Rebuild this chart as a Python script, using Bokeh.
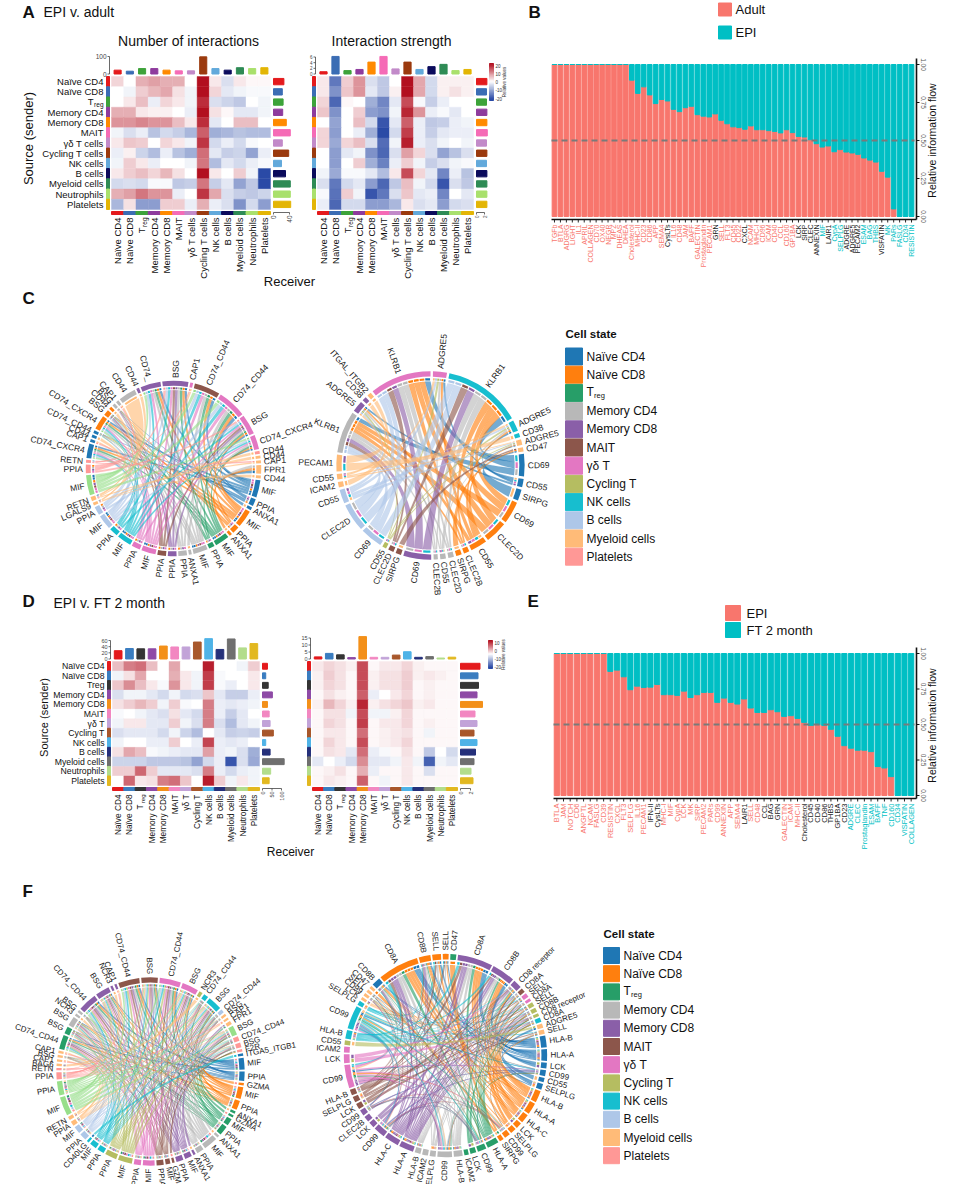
import numpy as np
from bokeh.plotting import figure
from bokeh.models import Range1d, ColumnDataSource
from bokeh.transform import linear_cmap
from bokeh.core.properties import value
from bokeh.embed import file_html
from bokeh.resources import INLINE

FONT = "Liberation Sans"

# ------------------------------------------------------------------ data
CELLS_A = ["Naïve CD4", "Naïve CD8", "Treg", "Memory CD4", "Memory CD8", "MAIT",
           "γδ T cells", "Cycling T cells", "NK cells", "B cells", "Myeloid cells",
           "Neutrophils", "Platelets"]
CELLS_D = ["Naïve CD4", "Naïve CD8", "Treg", "Memory CD4", "Memory CD8", "MAIT",
           "γδ T", "Cycling T", "NK cells", "B cells", "Myeloid cells",
           "Neutrophils", "Platelets"]
A_COLORS = ["#e41a1c", "#3b6db4", "#3da33a", "#8e3b9d", "#ff8a00", "#f56bb6", "#c28ac9",
            "#9b3a0e", "#62a9db", "#0b0b5c", "#2e8b55", "#a9e06c", "#e3b505"]
D_COLORS = ["#e41a1c", "#3a7dc0", "#353535", "#8e4aa6", "#f39019", "#f287c1", "#c2a3d8",
            "#a8572b", "#4fb3e7", "#25307a", "#6f6f6f", "#b3dd8c", "#e2b820"]

# relative values (sender rows x receiver columns)
A_COUNT = [
    [0.5, 0.0, 1.0, 1.2, 1.0, 1.0, 0.0, 3.0, 0.3, -0.5, 0.3, 0.1, 0.1],
    [0.0, -0.2, 0.6, 0.9, 1.1, 0.4, -0.2, 3.2, 0.5, -0.4, -0.2, -0.1, -0.1],
    [0.0, 0.3, 0.8, -0.3, 0.5, 0.3, -0.2, 2.6, -0.5, -0.7, -0.9, 0.0, -0.2],
    [1.0, 1.0, 0.3, 0.2, 0.2, 0.0, -0.3, 3.0, 0.4, 0.1, -0.4, -0.4, -0.2],
    [1.3, 1.3, 1.5, 1.3, 1.3, 0.8, 0.3, 2.6, -0.4, 0.0, 0.8, 0.8, 0.0],
    [-0.2, -0.5, -0.3, -1.0, -0.6, -0.8, -1.2, 2.0, -1.3, -1.2, -1.0, -1.1, -1.1],
    [0.3, 0.7, 0.6, 0.0, 0.5, 0.3, -0.2, 2.5, -0.6, -0.3, -0.6, -0.1, 0.0],
    [-0.3, 0.2, -0.7, -1.1, -0.3, -1.0, -1.3, 1.8, -0.4, -0.8, -0.7, -1.5, -0.3],
    [-0.2, 0.6, 0.3, -0.3, 0.0, 0.0, -0.2, 1.7, -1.1, -0.4, -0.6, -0.3, -0.1],
    [0.3, 0.6, 0.8, 0.5, 0.9, 0.4, 0.0, 3.0, 0.3, 0.0, 0.6, -0.2, -3.0],
    [-0.6, -0.5, -0.6, -0.1, -0.1, -0.9, -0.8, 1.7, -0.8, -0.4, -1.5, -0.9, -3.0],
    [1.0, 1.2, 1.7, 1.3, 1.3, -0.3, 0.0, 2.5, 1.1, -0.5, -0.8, -0.9, -0.7],
    [-1.2, 0.4, -1.6, -1.6, 0.6, 0.6, -0.3, 1.0, -0.3, -0.5, -1.8, -0.6, -1.6],
]
A_STRENGTH = [
    [0.3, -2.2, 0.6, 1.3, -0.5, -0.9, 0.0, 3.0, 1.1, -0.6, 0.2, 0.2, 0.2],
    [0.3, -1.8, 0.7, 1.3, -0.4, -0.9, 0.2, 3.2, 1.1, -0.6, 0.2, 0.4, 0.2],
    [0.5, -2.5, 0.1, 0.0, -1.3, -2.0, -0.4, 2.2, -0.1, -0.8, -0.3, 0.0, 0.0],
    [0.7, -1.8, 0.0, 0.6, -1.6, -1.8, -0.2, 2.7, 1.3, -0.3, -0.1, -0.4, 0.0],
    [0.0, -1.5, 0.0, 0.8, -0.6, -2.8, -0.4, 2.0, -0.3, -0.9, -0.8, -0.3, -0.2],
    [0.5, -1.6, 0.0, -0.3, -1.3, -3.0, -0.6, 2.4, -0.3, -0.8, -0.4, -0.3, -0.3],
    [0.5, -1.4, 0.5, 0.8, -0.5, -2.4, -0.2, 2.8, -0.3, -0.5, -0.2, 0.0, -0.2],
    [0.0, -1.6, -0.4, -0.2, -1.8, -2.5, -0.5, 1.2, 0.5, -0.5, -1.5, -1.0, -0.5],
    [0.0, -1.6, 0.0, 0.6, -1.3, -2.1, -0.3, 0.6, -0.2, -0.8, -0.5, -0.2, -0.1],
    [-0.2, -1.4, -0.1, -0.1, -0.4, -1.1, 0.3, 2.2, 0.5, -0.4, -2.0, -0.3, -1.0],
    [-0.5, -2.2, -0.6, -0.4, -1.6, -2.5, -0.9, 0.8, -0.2, -0.6, -2.8, -0.5, -0.9],
    [-0.1, -2.3, 0.6, -0.2, -2.8, -2.2, -0.5, 0.7, -0.4, -0.3, -2.0, 0.0, -0.4],
    [-0.3, -2.5, -0.6, -0.6, -1.6, -1.6, -1.2, 0.3, -0.5, -0.4, -1.6, -0.6, -0.5],
]
A_COUNT_IN = [22, 16, 31, 31, 22, 18, 18, 98, 31, 22, 36, 31, 36]
A_COUNT_OUT = [26, 22, 24, 23, 32, 42, 22, 38, 20, 30, 42, 42, 43]
A_STRENGTH_IN = [0.8, 6.2, 1.2, 1.6, 4.2, 6.2, 1.8, 4.2, 1.6, 2.6, 3.4, 1.2, 1.6]
A_STRENGTH_OUT = [2.6, 2.5, 2.5, 2.6, 2.6, 2.7, 2.5, 2.6, 2.5, 2.6, 2.6, 2.6, 2.6]

D_COUNT = [
    [0.8, 1.6, 1.8, 0.8, 0.0, 1.1, 0.0, 0.0, 2.8, 0.0, 0.0, -0.2, 0.6],
    [-0.2, 0.4, 1.1, 0.0, 0.0, 1.0, 0.3, -0.2, 2.4, -0.1, 0.0, 0.0, 0.3],
    [0.7, 1.4, 0.8, 0.3, -0.1, 1.3, 0.3, -0.2, 2.4, -0.1, -0.3, 0.0, 0.3],
    [-0.5, -0.2, -0.2, -0.4, -0.6, -0.2, -0.6, -0.5, 0.7, -0.4, -0.8, -0.8, -0.3],
    [0.4, 0.6, 0.9, 0.6, -0.2, 0.6, -0.1, 0.0, 1.6, -0.3, -0.4, -0.3, -0.2],
    [-0.1, 0.0, -0.2, -0.4, -0.5, 0.4, -0.4, -0.6, 1.6, -0.3, -0.8, -0.4, 0.0],
    [-0.2, 0.3, 0.3, -0.4, -0.4, 0.6, -0.2, -0.5, 1.6, -0.5, -1.1, -0.4, -0.2],
    [-0.5, -0.4, -0.4, -0.4, -0.6, -0.2, -0.7, -1.1, 0.0, -0.4, -0.8, -0.7, -0.8],
    [-0.2, 0.0, 0.0, -0.3, -0.3, 0.6, 0.0, -0.3, 2.3, -0.3, -0.4, -0.3, 0.0],
    [0.4, 1.1, 0.8, -0.1, -0.2, -0.3, -0.4, -0.4, 1.2, -0.3, -0.2, -0.5, -1.3],
    [-0.7, -0.7, -0.7, -0.9, -0.9, -0.9, -1.0, -1.5, -0.6, -0.3, -2.8, -0.5, -1.4],
    [0.6, 0.6, 1.9, 0.6, -0.4, -0.4, -0.4, -0.5, 1.6, -0.3, -0.6, -0.3, -0.2],
    [0.0, 1.9, 0.3, 0.4, 1.6, 1.8, 0.7, 0.0, 2.8, 0.6, -0.2, 0.3, -0.2],
]
D_STRENGTH = [
    [0.3, 0.5, 0.4, 0.2, 2.2, 0.1, 0.3, 0.3, 0.5, 0.2, 0.1, 0.1, 0.1],
    [0.2, 0.6, 0.4, 0.1, 2.2, 0.2, 0.4, 0.4, 0.6, 0.2, 0.3, 0.2, 0.1],
    [0.2, 0.5, 0.4, 0.1, 2.2, 0.2, 0.4, 0.4, 0.6, 0.1, 0.2, 0.1, 0.1],
    [0.1, 0.4, 0.2, 0.1, 2.0, -0.3, 0.0, 0.3, 0.5, 0.1, 0.2, 0.1, 0.1],
    [0.2, 0.9, 0.5, 0.2, 2.7, 0.2, 0.4, 0.5, 0.7, 0.2, 0.3, 0.1, 0.1],
    [0.1, 0.4, 0.4, -0.2, 2.2, -0.2, -0.2, 0.2, 0.5, 0.1, 0.1, 0.1, 0.1],
    [0.1, 0.5, 0.4, 0.1, 2.4, 0.1, 0.3, 0.3, 0.5, 0.1, 0.2, 0.1, 0.1],
    [0.1, 0.3, 0.3, 0.1, 1.8, 0.1, 0.2, 0.3, 0.4, 0.1, -0.2, 0.1, 0.1],
    [0.1, 0.5, 0.3, 0.1, 2.2, 0.1, 0.2, 0.3, 0.5, 0.1, 0.1, 0.1, 0.1],
    [0.1, 0.4, 0.3, -0.4, 1.8, -0.3, -0.1, 0.1, 0.4, 0.1, -0.9, 0.0, -0.6],
    [-0.4, 0.0, -0.3, -0.6, 1.4, -0.4, -0.4, -0.2, 0.3, -0.2, -2.6, -0.2, -0.4],
    [0.1, 0.2, 0.4, 0.1, 1.0, -0.3, 0.1, 0.1, 0.3, 0.1, -0.5, 0.1, 0.1],
    [0.1, 0.3, 0.2, 0.1, 2.0, 0.1, -0.2, 0.1, 0.3, 0.1, 0.1, 0.1, 0.1],
]
D_COUNT_IN = [27, 34, 33, 33, 42, 39, 39, 55, 66, 31, 65, 36, 50]
D_COUNT_OUT = [26, 17, 30, 52, 26, 35, 40, 57, 17, 40, 114, 43, 35]
D_STRENGTH_IN = [1.5, 4.0, 3.0, 1.0, 16.0, 1.2, 1.2, 2.8, 5.2, 1.2, 1.7, 0.7, 1.3]
D_STRENGTH_OUT = [3.9, 3.5, 3.6, 3.3, 4.4, 2.9, 3.3, 2.7, 3.3, 3.0, 2.7, 2.1, 2.5]

B_NAMES = ["TGFb", "BTLA", "ADGRG", "LIGHT", "IL1", "APRIL", "COLLAGEN", "CD70", "OX40",
           "NEGR", "MPZ", "DHEAS", "DHEA", "Cholesterol", "MHC-II", "CD23", "CD86", "APP",
           "SEMA4", "CysLTs", "IL16", "CD48", "JAM", "BAFF", "GALECTIN", "Prostaglandin",
           "PECAM1", "GRN", "SELL", "FLT3", "CD45", "CD22", "CXCL", "NCAM", "MHC-I", "CD96",
           "ICAM", "CD40", "CCL", "CD160", "GP1BA", "LCK", "SIRP", "CLEC", "ANNEXIN", "MIF",
           "LAIR1", "CypA", "SELPLG", "ADGRE", "ADGRE5", "PECAM2", "ESAM", "BAG", "THBS",
           "VISFATIN", "MK", "PARs", "FASLG", "CD34", "RESISTIN"]
B_ADULT = [1.0, 1.0, 1.0, 1.0, 1.0, 1.0, 1.0, 1.0, 1.0, 1.0, 1.0, 1.0, 1.0,
           0.897, 0.81, 0.853, 0.80, 0.743, 0.77, 0.76, 0.705, 0.69, 0.716, 0.725, 0.67,
           0.66, 0.655, 0.675, 0.633, 0.61, 0.59, 0.585, 0.574, 0.596, 0.571, 0.571, 0.565,
           0.56, 0.55, 0.571, 0.552, 0.527, 0.523, 0.505, 0.479, 0.457, 0.464, 0.426, 0.44,
           0.424, 0.418, 0.409, 0.385, 0.371, 0.358, 0.297, 0.259, 0.05, 0.0, 0.0, 0.0]
B_LABEL_GROUP = "rrrrrrrrrrrrrrrrrrrkrrrrrrrkrrrrkrrrrrrrrkkkktkttkkktttkttttt"

E_NAMES = ["BTLA", "JAM", "NOTCH", "CD6", "ANGPTL", "NCAM", "FASLG", "CD39", "RESISTIN",
           "CXCL", "FLT3", "SELPLG", "IL16", "PECAM1", "IFN-II", "CysLTs", "MHC-I", "MIF",
           "CypA", "LCK", "MK", "SIRP", "PECAM2", "PARs", "CD99", "ANNEXIN", "APP", "SEMA4",
           "LAIR1", "SELL", "CD48", "CCL", "BAG", "GRN", "GALECTIN", "ICAM", "MHC-II",
           "Cholesterol", "CD45", "CD40", "CD86", "THBS", "GP1BA", "CD23", "ADGRE", "CLEC",
           "Prostaglandin", "ESAM", "BAFF", "TNF", "CD160", "CD34", "VISFATIN", "COLLAGEN"]
E_EPI = [1.0, 1.0, 1.0, 1.0, 1.0, 1.0, 1.0, 1.0,
         0.874, 0.883, 0.836, 0.745, 0.77, 0.761, 0.763, 0.782, 0.71, 0.71, 0.705, 0.735,
         0.69, 0.71, 0.726, 0.726, 0.656, 0.686, 0.656, 0.644, 0.68, 0.616, 0.585, 0.585,
         0.604, 0.59, 0.557, 0.562, 0.543, 0.515, 0.494, 0.499, 0.494, 0.466, 0.417, 0.351,
         0.333, 0.319, 0.319, 0.309, 0.204, 0.194, 0.133, 0.0, 0.0, 0.0]
E_LABEL_GROUP = "rrrrrrrrrrrrrrkkrrrrrrrrrrrrkrrkkkrrrkkkkkkktttttttttt"

CHORD_COLORS = {"Naïve CD4": "#1f77b4", "Naïve CD8": "#ff7f0e", "Treg": "#279e68",
                "Memory CD4": "#b8b8b8", "Memory CD8": "#8a5fa8", "MAIT": "#8c564b",
                "γδ T": "#e377c2", "Cycling T": "#b5bd61", "NK cells": "#17becf",
                "B cells": "#aec7e8", "Myeloid cells": "#ffbb78", "Platelets": "#ff9896",
                "Neutrophils": "#98df8a"}
LEGEND_CELLS = ["Naïve CD4", "Naïve CD8", "Treg", "Memory CD4", "Memory CD8", "MAIT", "γδ T",
                "Cycling T", "NK cells", "B cells", "Myeloid cells", "Platelets"]

# chord sectors: (gene, cell state, relative width), clockwise
C_LEFT = [
    ("CD74_", "Memory CD8", 7), ("BSG", "Memory CD8", 9), ("CAP1", "γδ T", 1),
    ("CD74_CD44", "MAIT", 9), ("CD74_CD44", "γδ T", 10), ("BSG", "γδ T", 7),
    ("CD74_CXCR4", "γδ T", 5), ("CD44", "Platelets", 1), ("CD44", "Myeloid cells", 1),
    ("CAP1", "Myeloid cells", 1), ("FPR1", "Myeloid cells", 3), ("CD44", "Myeloid cells", 1),
    ("MIF", "Naïve CD4", 6), ("PPIA", "Naïve CD4", 2.5), ("ANXA1", "Naïve CD4", 1),
    ("MIF", "Naïve CD8", 6), ("PPIA", "Naïve CD8", 2.5), ("ANXA1", "Naïve CD8", 1),
    ("MIF", "Treg", 5), ("PPIA", "Treg", 2),
    ("MIF", "Memory CD4", 5), ("ANXA1", "Memory CD4", 1), ("PPIA", "Memory CD4", 3),
    ("PPIA", "Memory CD8", 3), ("PPIA", "MAIT", 3),
    ("MIF", "γδ T", 5), ("PPIA", "γδ T", 3), ("MIF", "NK cells", 5), ("PPIA", "NK cells", 3),
    ("MIF", "B cells", 5), ("PPIA", "B cells", 3),
    ("LGALS9", "Myeloid cells", 1), ("RETN", "Myeloid cells", 1.5),
    ("MIF", "Neutrophils", 7), ("PPIA", "Platelets", 3), ("RETN", "Platelets", 1),
    ("CD74_CXCR4", "Naïve CD4", 5), ("CAP1", "Naïve CD4", 1), ("CD44", "Naïve CD4", 1),
    ("CD74_CD44", "Naïve CD4", 1), ("CD74_CXCR4", "Naïve CD8", 5), ("BSG", "Naïve CD8", 2),
    ("CD44", "Naïve CD8", 1), ("BSG", "Memory CD4", 1), ("CAP1", "Memory CD4", 1),
    ("CD44", "Memory CD4", 6), ("CD44", "Memory CD8", 1),
]
C_LEFT_PAIRS = {"MIF": ["CD74_CXCR4", "CD74_CD44", "CD74_"], "PPIA": ["BSG"],
                "ANXA1": ["FPR1"], "RETN": ["CAP1"], "LGALS9": ["CD44"]}

C_RIGHT = [
    ("ITGAL_ITGB2", "Myeloid cells", 1.5), ("KLRB1", "γδ T", 22), ("ADGRE5", "γδ T", 5),
    ("KLRB1", "NK cells", 28), ("ADGRE5", "NK cells", 4), ("CD38", "NK cells", 1.5),
    ("ADGRE5", "Myeloid cells", 2), ("CD47", "Myeloid cells", 1.5),
    ("CD69", "Naïve CD4", 8), ("CD55", "Naïve CD4", 3), ("SIRPG", "Naïve CD4", 4),
    ("CD69", "Naïve CD8", 8), ("CLEC2D", "Naïve CD8", 8), ("CD55", "Naïve CD8", 6),
    ("CLEC2B", "Naïve CD8", 2), ("SIRPG", "Naïve CD8", 2),
    ("CLEC2D", "Memory CD4", 2), ("CD55", "Memory CD4", 2), ("CLEC2B", "Memory CD4", 1.5),
    ("CD69", "Memory CD8", 10), ("SIRPG", "MAIT", 2), ("CLEC2D", "MAIT", 2),
    ("CD55", "Cycling T", 1.5), ("CD69", "B cells", 8), ("CLEC2D", "B cells", 10),
    ("CD55", "B cells", 5), ("ICAM2", "Myeloid cells", 2), ("CD55", "Myeloid cells", 2),
    ("PECAM1", "Myeloid cells", 6), ("KLRB1", "Memory CD4", 15),
    ("ADGRE5", "Memory CD8", 4), ("CD38", "Memory CD8", 1.5),
]
C_RIGHT_PAIRS = {"CLEC2D": ["KLRB1"], "CD69": ["KLRB1"], "CLEC2B": ["KLRB1"],
                 "CD55": ["ADGRE5"], "SIRPG": ["CD47"], "PECAM1": ["CD38"],
                 "ICAM2": ["ITGAL_ITGB2"]}

F_LEFT = [
    ("CD74_CD44", "MAIT", 9), ("BSG", "MAIT", 7), ("CD74_CD44", "γδ T", 9), ("BSG", "γδ T", 7),
    ("NCR3", "Cycling T", 1.5), ("CD74_CD44", "NK cells", 2), ("BSG", "NK cells", 6),
    ("CD74_CD44", "B cells", 1.5), ("BSG", "Myeloid cells", 1), ("CAP1", "Myeloid cells", 1),
    ("FPR1", "Myeloid cells", 1.5), ("BSG", "Neutrophils", 4), ("CD74_CD44", "Platelets", 2),
    ("BSG", "Platelets", 2), ("F2R", "Platelets", 1), ("ITGA5_ITGB1", "Naïve CD4", 1),
    ("MIF", "Naïve CD4", 5), ("PPIA", "Naïve CD4", 4),
    ("GZMA", "Naïve CD8", 1), ("MIF", "Naïve CD8", 5), ("PPIA", "Naïve CD8", 4),
    ("ANXA1", "Treg", 1), ("GZMA", "Treg", 1), ("MIF", "Treg", 3), ("PPIA", "Treg", 4),
    ("ANXA1", "Memory CD4", 1), ("MIF", "Memory CD4", 6), ("PPIA", "Memory CD4", 3),
    ("ANXA1", "Memory CD8", 1), ("MIF", "Memory CD8", 3), ("PPIA", "Memory CD8", 3),
    ("GZMA", "MAIT", 1), ("MIF", "MAIT", 2), ("PPIA", "MAIT", 3),
    ("MIF", "γδ T", 5), ("PPIA", "γδ T", 3), ("MIF", "Cycling T", 6), ("PPIA", "Cycling T", 5),
    ("PPIA", "NK cells", 3), ("MIF", "NK cells", 3), ("CD40LG", "NK cells", 1),
    ("PPIA", "B cells", 3), ("MIF", "B cells", 3), ("PPIA", "Myeloid cells", 2),
    ("RETN", "Myeloid cells", 1.5), ("MIF", "Neutrophils", 8), ("PPIA", "Neutrophils", 6),
    ("PPIA", "Platelets", 3), ("RETN", "Platelets", 1),
    ("BAG6", "Myeloid cells", 1), ("CAP1", "Myeloid cells", 1), ("BSG", "Myeloid cells", 1),
    ("CAP1", "Myeloid cells", 1), ("CD74_CD44", "Treg", 6), ("BSG", "Treg", 3),
    ("BSG", "Memory CD4", 4), ("NCR3", "Memory CD4", 1), ("BSG", "Memory CD4", 1),
    ("CD74_CD44", "Memory CD8", 8), ("BSG", "Memory CD8", 6), ("NCR3", "Memory CD8", 1),
    ("CAP1", "Memory CD8", 1),
]
F_LEFT_PAIRS = {"MIF": ["CD74_CD44"], "PPIA": ["BSG"], "ANXA1": ["FPR1"], "RETN": ["CAP1"],
                "GZMA": ["F2R"], "CD40LG": ["ITGA5_ITGB1"], "BAG6": ["NCR3"]}

F_RIGHT = [
    ("SELPLG", "NK cells", 1.5), ("LCK", "Myeloid cells", 1), ("CD99", "Myeloid cells", 1),
    ("SELL", "Myeloid cells", 1), ("CD47", "Myeloid cells", 1), ("CD8B", "Naïve CD4", 3),
    ("CD8A", "Naïve CD8", 14), ("CD8B", "Naïve CD8", 4), ("SELL", "Naïve CD8", 3),
    ("SELL", "Naïve CD8", 2), ("CD47", "Treg", 2),
    ("CD8A", "Memory CD8", 12), ("CD8B", "Memory CD8", 8), ("CD8 receptor", "Memory CD8", 3),
    ("CD8A", "MAIT", 1.5), ("SELL", "γδ T", 1.5), ("CD8A", "γδ T", 1),
    ("SELL", "Cycling T", 1.5), ("CD8B", "Cycling T", 1.5), ("CD8 receptor", "Cycling T", 1),
    ("CD8A", "NK cells", 1.5), ("ADGRE5", "Myeloid cells", 1.5), ("SELL", "Myeloid cells", 1.5),
    ("HLA-B", "Naïve CD4", 4), ("HLA-A", "Naïve CD4", 4), ("LCK", "Naïve CD4", 2),
    ("CD99", "Naïve CD4", 2), ("CD55", "Naïve CD4", 1.5), ("SELPLG", "Naïve CD4", 2),
    ("HLA-B", "Naïve CD8", 4), ("HLA-A", "Naïve CD8", 4), ("HLA-C", "Naïve CD8", 3),
    ("LCK", "Naïve CD8", 2), ("SELPLG", "Naïve CD8", 2), ("CD99", "Naïve CD8", 2),
    ("SIRPG", "Naïve CD8", 1.5),
    ("HLA-A", "Treg", 4), ("CD99", "Treg", 3), ("LCK", "Treg", 2), ("ICAM2", "Treg", 1.5),
    ("HLA-B", "Memory CD4", 3), ("CD99", "Memory CD4", 5), ("SELPLG", "Memory CD4", 2),
    ("ICAM2", "Memory CD4", 2), ("HLA-B", "Memory CD4", 2),
    ("HLA-A", "Memory CD8", 5), ("HLA-C", "Memory CD8", 5), ("CD99", "Memory CD8", 4),
    ("LCK", "Memory CD8", 2), ("CLEC2B", "Memory CD8", 2), ("CD99", "Memory CD8", 2),
    ("LCK", "MAIT", 2), ("SELPLG", "MAIT", 2), ("HLA-B", "MAIT", 2),
    ("CD99", "γδ T", 8), ("LCK", "γδ T", 3), ("ICAM2", "γδ T", 2), ("CD55", "Cycling T", 1.5),
    ("HLA-B", "NK cells", 3), ("CD99", "NK cells", 8),
]
F_RIGHT_PAIRS = {"HLA-A": ["CD8A", "CD8B", "CD8 receptor"],
                 "HLA-B": ["CD8A", "CD8B", "CD8 receptor"],
                 "HLA-C": ["CD8A", "CD8B", "CD8 receptor"],
                 "CD99": ["CD99"], "LCK": ["CD8 receptor"], "SELPLG": ["SELL"],
                 "CD55": ["ADGRE5"], "SIRPG": ["CD47"]}

# ------------------------------------------------------------------ canvas
XL = (0, 937)      # default ranges are reference-image pixels
YL = (1184, 0)
p = figure(width=937, height=1184, x_range=Range1d(*XL), y_range=Range1d(*YL),
           x_axis_type=None, y_axis_type=None, toolbar_location=None,
           output_backend="svg", min_border=0, outline_line_color=None)
p.grid.visible = False


def lin_range(v0, p0, v1, p1, lo, hi):
    k = (v1 - v0) / (p1 - p0)
    return Range1d(start=v0 + (lo - p0) * k, end=v0 + (hi - p0) * k)


def ramp(c0, c1, n):
    a = np.array([int(c0[i:i + 2], 16) for i in (1, 3, 5)], float)
    b = np.array([int(c1[i:i + 2], 16) for i in (1, 3, 5)], float)
    return ["#%02x%02x%02x" % tuple(int(round(v)) for v in a + (b - a) * t)
            for t in np.linspace(0, 1, n)]


PAL = ramp("#2a4aa6", "#ffffff", 64) + ramp("#ffffff", "#b20f1f", 64)[1:]


def txt(x, y, s, size, color="#111111", align="left", base="middle", angle=0.0,
        style="normal", **kw):
    if not isinstance(s, list):
        x, y, s = [x], [y], [s]
    p.text(x=x, y=y, text=s, angle=angle, text_font=value(FONT),
           text_font_size=value(size), text_font_style=style, text_color=color,
           text_align=align, text_baseline=base, **kw)


def heatmap(key, vals, box, colors, top_vals, top_scale, top_ticks, out_vals, out_scale,
            out_ticks, tick_fs, bar_w):
    left, right, top, bottom = box
    n = len(vals)
    xr, yr, tr, orng = key + "x", key + "y", key + "t", key + "o"
    p.extra_x_ranges[xr] = lin_range(-0.5, left, n - 0.5, right, *XL)
    p.extra_y_ranges[yr] = lin_range(n - 0.5, top, -0.5, bottom, *YL)
    base = top - 2.5
    p.extra_y_ranges[tr] = lin_range(0, base, top_scale[0], top_scale[1], *YL)
    x_out = right + 3
    p.extra_x_ranges[orng] = lin_range(0, x_out, out_scale[0], out_scale[1], *XL)
    cols = list(range(n))
    rows = [n - 1 - i for i in range(n)]
    src = ColumnDataSource(dict(
        x=[j for i in range(n) for j in range(n)],
        y=[n - 1 - i for i in range(n) for j in range(n)],
        v=[vals[i][j] for i in range(n) for j in range(n)]))
    cmap = linear_cmap("v", PAL, -3, 3)
    p.rect(x="x", y="y", width=1, height=1, source=src, fill_color=cmap, line_color=cmap,
           line_width=0.4, x_range_name=xr, y_range_name=yr)
    # annotation strips
    p.rect(x=[left - 3.5] * n, y=rows, width=3, height=1, color=colors, y_range_name=yr)
    p.rect(x=cols, y=[bottom + 3.5] * n, width=1, height=3, color=colors, x_range_name=xr)
    # incoming (top) bars
    p.vbar(x=cols, bottom=0, top=top_vals, width=bar_w, color=colors,
           x_range_name=xr, y_range_name=tr)
    ax = left - 2
    p.line(x=[ax, ax], y=[0, top_ticks[-1]], color="#444444", line_width=0.8, y_range_name=tr)
    p.segment(x0=[ax - 2] * len(top_ticks), x1=[ax] * len(top_ticks), y0=top_ticks,
              y1=top_ticks, color="#444444", line_width=0.8, y_range_name=tr)
    txt([ax - 3] * len(top_ticks), top_ticks, [str(t) for t in top_ticks], tick_fs,
        color="#444444", align="right", y_range_name=tr)
    # outgoing (right) bars
    p.hbar(y=rows, left=0, right=out_vals, height=0.62, color=colors,
           x_range_name=orng, y_range_name=yr)
    ay = bottom + 3
    p.line(x=[0, out_ticks[-1]], y=[ay, ay], color="#444444", line_width=0.8,
           x_range_name=orng)
    p.segment(x0=out_ticks, x1=out_ticks, y0=[ay] * len(out_ticks),
              y1=[ay + 2] * len(out_ticks), color="#444444", line_width=0.8,
              x_range_name=orng)
    txt(out_ticks, [ay + 3] * len(out_ticks), [str(t) for t in out_ticks], tick_fs,
        color="#444444", align="right", angle=np.pi / 2, x_range_name=orng)
    return xr, yr


def col_labels(xr, labels, left, w, y, fs, sub_fs):
    shown = ["" if s == "Treg" else s for s in labels]
    txt(list(range(len(labels))), [y] * len(labels), shown, fs, align="right",
        angle=np.pi / 2, x_range_name=xr)
    j = labels.index("Treg")
    cx = left + (j + 0.5) * w
    txt(cx + 2.5, y, "reg", sub_fs, align="right", angle=np.pi / 2)
    txt(cx - 0.5, y + 10, "T", fs, align="right", angle=np.pi / 2)


def colorbar(x, y0, y1, labels):
    lv = list(np.linspace(3, -3, 30))
    hh = (y1 - y0) / len(lv)
    src = ColumnDataSource(dict(y=[y0 + (k + 0.5) * hh for k in range(len(lv))], v=lv))
    cm = linear_cmap("v", PAL, -3, 3)
    p.rect(x=x + 2, y="y", width=4, height=hh, source=src, fill_color=cm, line_color=cm)
    ys = list(np.linspace(y0 + 2, y1 - 2, len(labels)))
    txt([x + 6] * len(labels), ys, labels, "4.5px", color="#333333")
    txt(x + 15, (y0 + y1) / 2, "Relative values", "4.5px", color="#333333",
        align="center", angle=np.pi / 2)


def flow_bars(key, names, frac, groups, box, lab_fs, lab_y):
    left, right, top, bottom = box
    n = len(names)
    xr, yr = key + "x", key + "y"
    p.extra_x_ranges[xr] = lin_range(-0.5, left, n - 0.5, right, *XL)
    p.extra_y_ranges[yr] = lin_range(0, bottom, 1, top, *YL)
    idx = list(range(n))
    p.vbar(x=idx, bottom=0, top=frac, width=0.78, color="#f8766d",
           x_range_name=xr, y_range_name=yr)
    p.vbar(x=idx, bottom=frac, top=[1.0] * n, width=0.78, color="#00bfc4",
           x_range_name=xr, y_range_name=yr)
    p.line(x=[-0.5, n - 0.5], y=[0.5, 0.5], line_dash="6 4", color="#7a7a7a",
           line_width=1.8, x_range_name=xr, y_range_name=yr)
    axy = bottom + 3
    p.line(x=[left, right + 2], y=[axy, axy], color="#111111", line_width=1.6)
    p.segment(x0=idx, x1=idx, y0=[axy] * n, y1=[axy + 3] * n, color="#111111",
              line_width=0.9, x_range_name=xr)
    axx = right + 2
    p.line(x=[axx, axx], y=[top - 6, axy], color="#111111", line_width=1.6)
    ticks = [0.0, 0.25, 0.5, 0.75, 1.0]
    p.segment(x0=[axx] * 5, x1=[axx + 3] * 5, y0=ticks, y1=ticks, color="#111111",
              line_width=1, y_range_name=yr)
    txt([axx + 7] * 5, ticks, ["0.00", "0.25", "0.50", "0.75", "1.00"], "6.5px",
        color="#555555", align="center", angle=-np.pi / 2, y_range_name=yr)
    cmap = {"r": "#f8766d", "k": "#1a1a1a", "t": "#00bfc4"}
    txt(idx, [lab_y] * n, list(names), lab_fs, color=[cmap[g] for g in groups],
        align="right", angle=np.pi / 2, x_range_name=xr)
    return axx


def bez(rc, a0, a1, m=22):
    p0 = rc * np.array([np.cos(np.radians(a0)), np.sin(np.radians(a0))])
    p2 = rc * np.array([np.cos(np.radians(a1)), np.sin(np.radians(a1))])
    c = (p0 + p2) / 2 * 0.3
    t = np.linspace(0, 1, m)[:, None]
    q = (1 - t) ** 2 * p0 + 2 * t * (1 - t) * c + t ** 2 * p2
    return list(q[:, 0]), list(q[:, 1])


def arc(rc, a0, a1, m=8):
    t = np.radians(np.linspace(a0, a1, m))
    return list(rc * np.cos(t)), list(rc * np.sin(t))


def chord(key, cx, cy, rad, start, sectors, pairs, fs, gap=1.2):
    xr, yr = key + "x", key + "y"
    p.extra_x_ranges[xr] = lin_range(0, cx, 1, cx + rad, *XL)
    p.extra_y_ranges[yr] = lin_range(0, cy, 1, cy - rad, *YL)
    labs = [s[0] for s in sectors]
    cols = [CHORD_COLORS[s[1]] for s in sectors]
    size = np.array([s[2] for s in sectors], float)
    n = len(sectors)
    unit = (360.0 - gap * n) / size.sum()
    hi, lo = np.zeros(n), np.zeros(n)
    pos = start
    for i in range(n):
        hi[i] = pos
        lo[i] = pos - size[i] * unit
        pos = lo[i] - gap
    mid = (hi + lo) / 2
    links = [(i, j) for i in range(n) for j in range(n)
             if i != j and labs[j] in pairs.get(labs[i], [])]
    ends = [[] for _ in range(n)]
    for k, (i, j) in enumerate(links):
        ends[i].append((k, j))
        ends[j].append((k, i))
    span = {}
    for s in range(n):
        if not ends[s]:
            continue
        ends[s].sort(key=lambda e: (mid[e[1]] - mid[s]) % 360)
        step = (hi[s] - lo[s]) / len(ends[s])
        for m, (k, t) in enumerate(ends[s]):
            a = hi[s] - m * step
            span[(k, s)] = (a - step, a)
    rc = 0.955
    xs, ys, fc = [], [], []
    for k, (i, j) in enumerate(links):
        a0, a1 = span[(k, i)]
        b0, b1 = span[(k, j)]
        px, py = [], []
        for seg in (arc(rc, a0, a1), bez(rc, a1, b0), arc(rc, b0, b1), bez(rc, b1, a0)):
            px += seg[0]
            py += seg[1]
        xs.append(px)
        ys.append(py)
        fc.append(cols[i])
    p.patches(xs=xs, ys=ys, fill_color=fc, fill_alpha=0.62, line_color=fc, line_alpha=0.3,
              line_width=0.3, x_range_name=xr, y_range_name=yr)
    t0, t1, tc = [], [], []
    for (k, s), (a0, a1) in span.items():
        i, j = links[k]
        other = j if s == i else i
        w = a1 - a0
        t0.append(np.radians(a0 + 0.08 * w))
        t1.append(np.radians(a1 - 0.08 * w))
        tc.append(cols[other])
    p.annular_wedge(x=0, y=0, inner_radius=0.967, outer_radius=0.992, start_angle=t0,
                    end_angle=t1, fill_color=tc, line_color=None,
                    x_range_name=xr, y_range_name=yr)
    p.annular_wedge(x=0, y=0, inner_radius=1.01, outer_radius=1.07,
                    start_angle=list(np.radians(lo)), end_angle=list(np.radians(hi)),
                    fill_color=cols, line_color=None, x_range_name=xr, y_range_name=yr)
    R = 1.105
    mr = np.radians(mid)
    right = np.cos(mr) >= 0
    for side in (True, False):
        sel = [i for i in range(n) if right[i] == side]
        txt([R * np.cos(mr[i]) for i in sel], [R * np.sin(mr[i]) for i in sel],
            [labs[i] for i in sel], fs, color="#1a1a1a",
            align="left" if side else "right",
            angle=[mr[i] if side else mr[i] + np.pi for i in sel],
            x_range_name=xr, y_range_name=yr)


def cell_legend(x, y_title, y_first, step, sq):
    txt(x, y_title, "Cell state", "11.5px", style="bold")
    ys = [y_first + k * step for k in range(len(LEGEND_CELLS))]
    p.rect(x=[x + sq / 2] * len(ys), y=ys, width=sq, height=sq,
           color=[CHORD_COLORS[c] for c in LEGEND_CELLS])
    shown = ["" if c == "Treg" else c for c in LEGEND_CELLS]
    txt([x + sq + 4] * len(ys), ys, shown, "12px")
    txt(x + sq + 4, ys[2] - 1, "T", "12px")
    txt(x + sq + 11.5, ys[2] + 3, "reg", "7.5px")


# ------------------------------------------------------------------ panel A
txt(22, 12, "A", "17px", style="bold")
txt(43, 11, "EPI v. adult", "14px")
txt(188, 40, "Number of interactions", "14px", align="center")
txt(391, 40, "Interaction strength", "14px", align="center")
txt(28, 138, "Source (sender)", "13px", align="center", angle=np.pi / 2)
txt(289, 281, "Receiver", "13px", align="center")

xa, ya = heatmap("A1", A_COUNT, (111, 270, 76, 209), A_COLORS, A_COUNT_IN, (100, 56),
                 [0, 100], A_COUNT_OUT, (40, 289), [0, 40], "6.5px", 0.58)
rows_a = ["" if s == "Treg" else s for s in CELLS_A]
txt([103] * 13, [12 - i for i in range(13)], rows_a, "9.5px", align="right", y_range_name=ya)
ry = 76 + 2.5 * (133 / 13)
txt(103, ry + 2.5, "reg", "6.5px", align="right")
txt(93, ry - 0.5, "T", "9.5px", align="right")
col_labels(xa, CELLS_A, 111, 159 / 13, 217, "9.5px", "6.5px")

xb, yb = heatmap("A2", A_STRENGTH, (317, 473, 76, 209), A_COLORS, A_STRENGTH_IN, (6, 56.5),
                 [0, 2, 4, 6], A_STRENGTH_OUT, (2, 484), [0, 2], "4.5px", 0.6)
col_labels(xb, CELLS_A, 317, 156 / 13, 217, "9.5px", "6.5px")
colorbar(489, 63, 100, ["20", "10", "0", "-10", "-20"])

# ------------------------------------------------------------------ panel B
txt(528, 12, "B", "17px", style="bold")
p.rect(x=[724.5, 724.5], y=[9, 32], width=13, height=13, color=["#f8766d", "#00bfc4"])
txt([735, 735], [9, 32], ["Adult", "EPI"], "13px")
bx = flow_bars("B", B_NAMES, B_ADULT, B_LABEL_GROUP, (551, 914, 64, 216), "7px", 224)
txt(bx + 15, 140, "Relative information flow", "10.5px", align="center", angle=np.pi / 2)

# ------------------------------------------------------------------ panel C
txt(22, 298, "C", "17px", style="bold")
chord("CL", 173, 468, 82, 112, C_LEFT, C_LEFT_PAIRS, "8.5px")
chord("CR", 430, 465, 88, 132, C_RIGHT, C_RIGHT_PAIRS, "8.5px", gap=1.5)
cell_legend(565, 333, 356, 18.2, 17)

# ------------------------------------------------------------------ panel D
txt(22, 601, "D", "17px", style="bold")
txt(53, 602, "EPI v. FT 2 month", "14px")
txt(43, 717, "Source (sender)", "11px", align="center", angle=np.pi / 2)
txt(290, 851, "Receiver", "12px", align="center")
xd, yd = heatmap("D1", D_COUNT, (112, 259, 661, 785), D_COLORS, D_COUNT_IN, (60, 640),
                 [0, 20, 40, 60], D_COUNT_OUT, (100, 281), [0, 50, 100], "5.5px", 0.68)
txt([104] * 13, [12 - i for i in range(13)], CELLS_D, "8.7px", align="right",
    y_range_name=yd)
col_labels(xd, CELLS_D, 112, 147 / 13, 794, "8.3px", "6px")
xe, ye = heatmap("D2", D_STRENGTH, (312, 457, 661, 785), D_COLORS, D_STRENGTH_IN,
                 (15, 637.5), [0, 5, 10, 15], D_STRENGTH_OUT, (2, 470), [0, 2], "5.5px", 0.68)
col_labels(xe, CELLS_D, 312, 145 / 13, 794, "8.3px", "6px")
colorbar(488, 640, 668, ["10", "0", "-10", "-20"])

# ------------------------------------------------------------------ panel E
txt(527, 601, "E", "17px", style="bold")
p.rect(x=[732.5, 732.5], y=[612.5, 629.5], width=15, height=15,
       color=["#f8766d", "#00bfc4"])
txt([746, 746], [612.5, 629.5], ["EPI", "FT 2 month"], "13px")
ex = flow_bars("E", E_NAMES, E_EPI, E_LABEL_GROUP, (553, 914, 653, 795), "7.5px", 803)
txt(ex + 15, 725, "Relative information flow", "10.5px", align="center", angle=np.pi / 2)

# ------------------------------------------------------------------ panel F
txt(22, 891, "F", "17px", style="bold")
chord("FL", 150, 1071, 88, 110, F_LEFT, F_LEFT_PAIRS, "8px")
chord("FR", 445, 1055, 95, 150, F_RIGHT, F_RIGHT_PAIRS, "8px", gap=1.0)
cell_legend(603, 933, 955, 18.2, 16)

open("out.html", "w").write(file_html(p, INLINE))
